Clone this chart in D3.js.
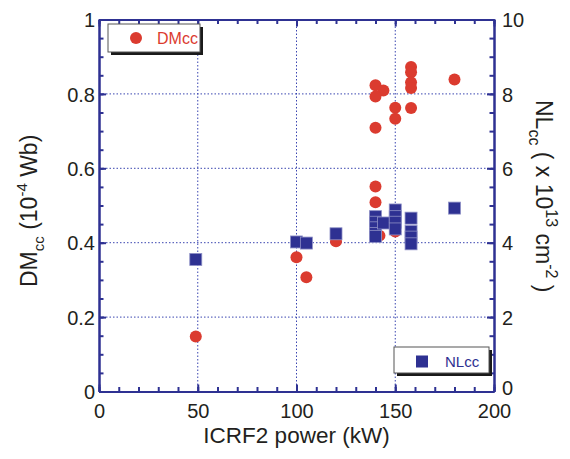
<!DOCTYPE html>
<html>
<head>
<meta charset="utf-8">
<script src="https://cdn.jsdelivr.net/npm/d3@7"></script>
<style>
  body { margin: 0; background: #fff; }
  text { font-family: "Liberation Sans", Arial, Helvetica, sans-serif; fill: #231f20; }
</style>
</head>
<body>
<script>
// DMcc (left axis, 1e-4 Wb) vs ICRF2 power
const dmPower = [49, 100, 105, 120, 140, 144, 140, 150, 150, 140, 158, 158, 158, 158, 158, 180, 140, 140, 142, 150];
const dmValues = [0.148, 0.361, 0.307, 0.404, 0.823, 0.809, 0.793, 0.763, 0.733, 0.709, 0.872, 0.858, 0.831, 0.816, 0.762, 0.839, 0.551, 0.509, 0.419, 0.43];

// NLcc (right axis, 1e13 cm-2) vs ICRF2 power
const nlPower = [49, 100, 105, 120, 140, 140, 140, 140, 140, 144, 150, 150, 150, 150, 158, 158, 158, 158, 180];
const nlValues = [3.55, 4.02, 3.99, 4.24, 4.70, 4.55, 4.40, 4.25, 4.17, 4.53, 4.88, 4.70, 4.55, 4.37, 4.66, 4.30, 4.15, 3.97, 4.93];

const xTicks = [0, 50, 100, 150, 200];
const yLeftTicks = [0, 0.2, 0.4, 0.6, 0.8, 1];
const yRightTicks = [0, 2, 4, 6, 8, 10];

const W = 570, H = 459;
const pLeft = 99, pRight = 494, pTop = 19.5, pBottom = 391.5;
const navy = "#2e3192";
const red = "#db3b2f";

const x = d3.scaleLinear().domain([0, 200]).range([pLeft, pRight]);
const yL = d3.scaleLinear().domain([0, 1]).range([pBottom, pTop]);
const yR = d3.scaleLinear().domain([0, 10]).range([pBottom, pTop]);

const svg = d3.select("body").append("svg")
  .attr("width", W)
  .attr("height", H);

// grid
const grid = svg.append("g")
  .attr("stroke", "#3a45b0")
  .attr("stroke-width", 1)
  .attr("stroke-dasharray", "1.5,2");
grid.selectAll("line.gx").data(xTicks.slice(1, -1)).join("line")
  .attr("x1", d => x(d)).attr("x2", d => x(d))
  .attr("y1", pTop).attr("y2", pBottom);
grid.selectAll("line.gy").data(yLeftTicks.slice(1, -1)).join("line")
  .attr("y1", d => yL(d)).attr("y2", d => yL(d))
  .attr("x1", pLeft).attr("x2", pRight);

// axes
function styleAxis(g) {
  g.select(".domain").attr("stroke", navy).attr("stroke-width", 2);
  g.selectAll(".tick line").attr("stroke", navy).attr("stroke-width", 2);
  g.selectAll(".tick text").attr("fill", "#231f20").style("font-size", "20px")
    .style("font-family", "'Liberation Sans', Arial, sans-serif");
}

// minor ticks first (no labels)
const minorX = d3.range(0, 201, 10);
const minorL = d3.range(0, 1.0001, 0.05);
const minorR = d3.range(0, 10.001, 0.5);

svg.append("g").attr("transform", `translate(0,${pBottom})`)
  .call(d3.axisTop(x).tickValues(minorX).tickSize(4.5).tickFormat("").tickSizeOuter(0))
  .call(styleAxis);
svg.append("g").attr("transform", `translate(0,${pTop})`)
  .call(d3.axisBottom(x).tickValues(minorX).tickSize(4.5).tickFormat("").tickSizeOuter(0))
  .call(styleAxis);
svg.append("g").attr("transform", `translate(${pLeft},0)`)
  .call(d3.axisRight(yL).tickValues(minorL).tickSize(4.5).tickFormat("").tickSizeOuter(0))
  .call(styleAxis);
svg.append("g").attr("transform", `translate(${pRight},0)`)
  .call(d3.axisLeft(yR).tickValues(minorR).tickSize(4.5).tickFormat("").tickSizeOuter(0))
  .call(styleAxis);

// major ticks
svg.append("g").attr("transform", `translate(0,${pTop})`)
  .call(d3.axisBottom(x).tickValues(xTicks).tickSize(7).tickFormat("").tickSizeOuter(0))
  .call(styleAxis);

const xAxis = svg.append("g").attr("transform", `translate(0,${pBottom})`)
  .call(d3.axisTop(x).tickValues(xTicks).tickSize(7).tickFormat(d3.format("d")).tickSizeOuter(0))
  .call(styleAxis);
xAxis.selectAll(".tick text").attr("y", 26).attr("dy", 0);

const yLAxis = svg.append("g").attr("transform", `translate(${pLeft},0)`)
  .call(d3.axisRight(yL).tickValues(yLeftTicks).tickSize(7)
    .tickFormat(d => d === 0 || d === 1 ? d3.format("d")(d) : d3.format(".1f")(d)).tickSizeOuter(0))
  .call(styleAxis);
yLAxis.selectAll(".tick text").attr("x", -4).attr("text-anchor", "end").attr("dy", "0.36em");

const yRAxis = svg.append("g").attr("transform", `translate(${pRight},0)`)
  .call(d3.axisLeft(yR).tickValues(yRightTicks).tickSize(7).tickFormat(d3.format("d")).tickSizeOuter(0))
  .call(styleAxis);
yRAxis.selectAll(".tick text").attr("x", 8).attr("text-anchor", "start")
  .attr("dy", d => d === 0 ? "0.16em" : "0.36em");

// points
svg.append("g").selectAll("circle")
  .data(dmPower.map((p, i) => [p, dmValues[i]]))
  .join("circle")
  .attr("cx", d => x(d[0]))
  .attr("cy", d => yL(d[1]))
  .attr("r", 6)
  .attr("fill", red);

const sq = 12;
svg.append("g").selectAll("rect")
  .data(nlPower.map((p, i) => [p, nlValues[i]]))
  .join("rect")
  .attr("x", d => x(d[0]) - sq / 2)
  .attr("y", d => yR(d[1]) - sq / 2)
  .attr("width", sq)
  .attr("height", sq)
  .attr("fill", navy)
  .attr("stroke", "#8e90c6")
  .attr("stroke-width", 0.8);

// legends
function legendBox(bx, by, bw, bh) {
  svg.append("rect").attr("x", bx + 3).attr("y", by + 3).attr("width", bw).attr("height", bh).attr("fill", "#1a1a1a");
  svg.append("rect").attr("x", bx).attr("y", by).attr("width", bw).attr("height", bh)
    .attr("fill", "#fff").attr("stroke", "#555").attr("stroke-width", 1);
}
legendBox(108, 24, 92, 28);
svg.append("circle").attr("cx", 136).attr("cy", 38).attr("r", 6).attr("fill", red);
svg.append("text").attr("x", 157).attr("y", 44).style("font-size", "16px").style("fill", red).text("DMcc");

legendBox(394, 347, 95, 26);
svg.append("rect").attr("x", 416).attr("y", 355.5).attr("width", 12).attr("height", 12).attr("fill", navy);
svg.append("text").attr("x", 445).attr("y", 366.5).style("font-size", "15px").style("fill", navy).text("NLcc");

// axis titles
svg.append("text")
  .attr("x", (pLeft + pRight) / 2)
  .attr("y", 443)
  .attr("text-anchor", "middle")
  .style("font-size", "22.5px")
  .text("ICRF2 power (kW)");

const lt = svg.append("text")
  .attr("transform", "translate(37,287) rotate(-90)")
  .style("font-size", "23px");
lt.append("tspan").text("DM");
lt.append("tspan").attr("dy", 7).style("font-size", "15px").text("cc");
lt.append("tspan").attr("dy", -7).text(" (10");
lt.append("tspan").attr("dy", -10).style("font-size", "15px").text("-4");
lt.append("tspan").attr("dy", 10).text(" Wb)");

const rt = svg.append("text")
  .attr("transform", "translate(536,100) rotate(90)")
  .style("font-size", "23px");
rt.append("tspan").text("NL");
rt.append("tspan").attr("dy", 7).style("font-size", "16px").text("cc");
rt.append("tspan").attr("dy", -7).text("  ( x 10");
rt.append("tspan").attr("dy", -10).style("font-size", "16px").text("13");
rt.append("tspan").attr("dy", 10).text("  cm");
rt.append("tspan").attr("dy", -10).style("font-size", "16px").text("-2");
rt.append("tspan").attr("dy", 10).text(" )");
</script>
</body>
</html>
